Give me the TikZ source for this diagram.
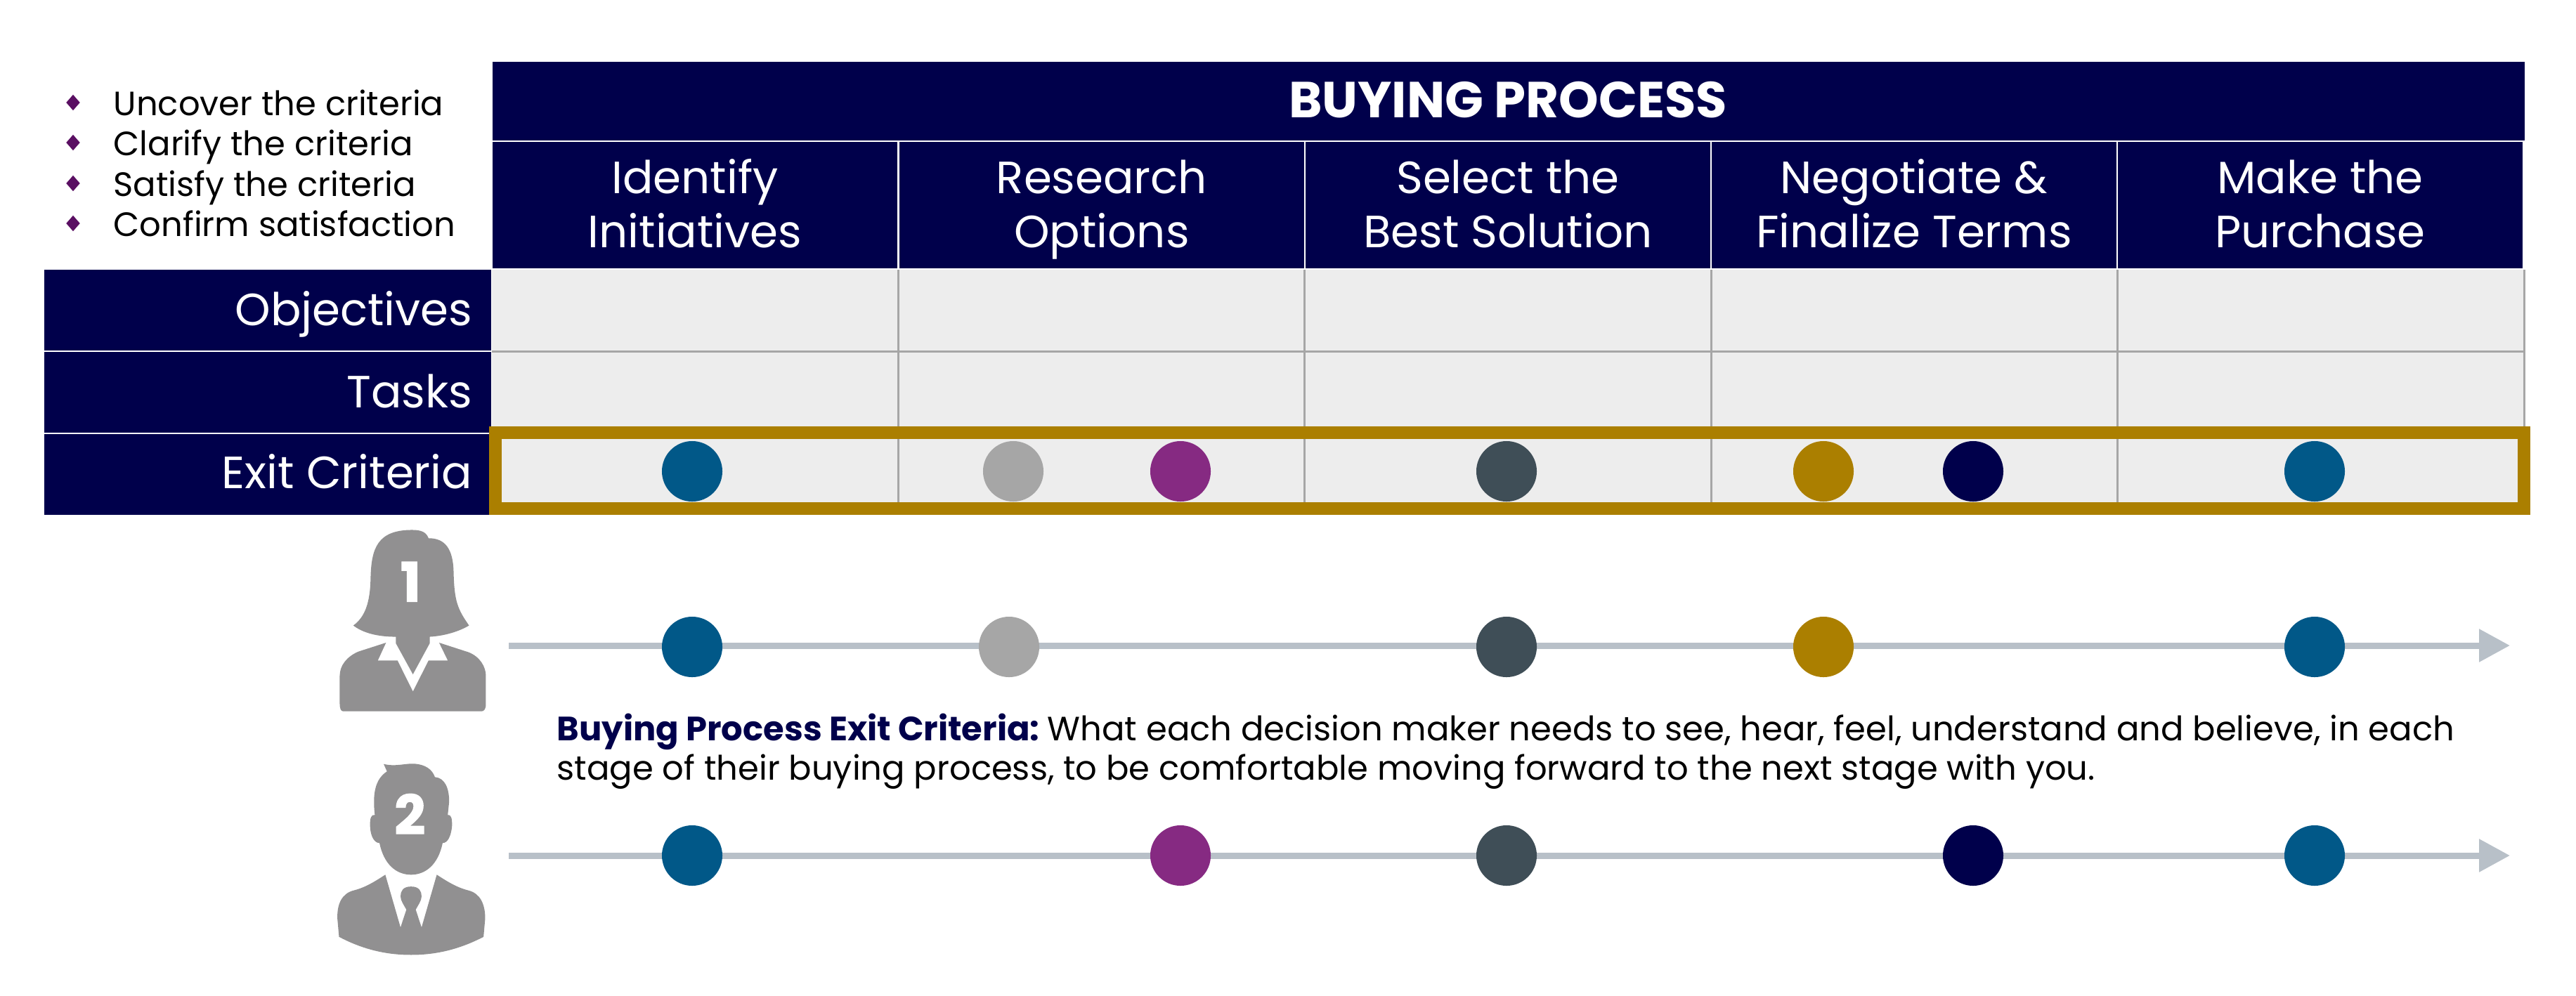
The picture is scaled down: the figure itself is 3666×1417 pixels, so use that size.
\documentclass[tikz,border=0pt]{standalone}
\usepackage{fontspec}
\setmainfont{Poppins}
\newfontfamily\numfont{Poppins}[BoldFeatures={FakeBold=1.5}]
\usetikzlibrary{arrows.meta,shapes.geometric}
\definecolor{navy}{HTML}{00004B}
\definecolor{cellgray}{HTML}{EDEDED}
\definecolor{gridgray}{HTML}{A6A6A6}
\definecolor{goldc}{HTML}{AB7F00}
\definecolor{bluec}{HTML}{015888}
\definecolor{lgray}{HTML}{A6A6A6}
\definecolor{purp}{HTML}{862A82}
\definecolor{slate}{HTML}{3F4E57}
\definecolor{linec}{HTML}{B8C0C8}
\definecolor{bul}{HTML}{5A0F62}
\definecolor{person}{HTML}{919091}
\newcommand{\fsHead}{\fontsize{18.3}{21.9}\selectfont}
\newcommand{\fsBody}{\fontsize{13.66}{15.9}\selectfont}
\tikzset{
  navybox/.style={fill=navy,text=white,inner sep=0pt,outer sep=0pt,rectangle},
  headcell/.style={navybox,minimum width=5.76cm,minimum height=1.80cm},
  headtext/.style={text=white,inner sep=0pt,font=\fsHead,align=center},
  rowcell/.style={navybox,minimum width=6.36cm,minimum height=1.15cm},
  rowlabel/.style={text=white,font=\fsHead,anchor=base east,inner sep=0pt},
  bodycell/.style={fill=cellgray,inner sep=0pt,outer sep=0pt,rectangle,minimum width=5.784cm,minimum height=1.165cm},
  gridline/.style={draw=gridgray,line width=.03cm},
  dot/.style={circle,minimum size=.86cm,inner sep=0pt,outer sep=0pt,fill=#1},
  timeline/.style={draw=linec,line width=.09cm,-{Triangle[length=.44cm,width=.45cm]}},
  bulletd/.style={diamond,fill=bul,inner sep=0pt,minimum width=.2cm,minimum height=.23cm},
  bullettext/.style={font=\fsBody,anchor=base west,inner sep=0pt},
  frame/.style={draw=goldc,line width=.18cm},
  persona/.style={fill=person},
  numlabel/.style={text=white,font=\fontsize{22}{22}\selectfont\numfont\bfseries,inner sep=0pt}
}
\begin{document}
\begin{tikzpicture}[x=0.01cm,y=-0.01cm]
\useasboundingbox (0,0) rectangle (3666,1417);
% title bar
\node[navybox,minimum width=28.9cm,minimum height=1.12cm] (title) at (2147,144) {};
\node[text=white,inner sep=0pt,anchor=base,font=\fontsize{20.5}{24}\selectfont\bfseries] (titletext) at (2146,167) {BUYING PROCESS};
% stage headers
\node[headcell] (h1) at (989,292) {};
\node[headcell] (h2) at (1568,292) {};
\node[headcell] (h3) at (2146,292) {};
\node[headcell] (h4) at (2724,292) {};
\node[headcell] (h5) at (3302,292) {};
\node[headtext] (ht1) at (989,299) {\strut Identify\\\strut Initiatives};
\node[headtext] (ht2) at (1568,299) {\strut Research\\\strut Options};
\node[headtext] (ht3) at (2146,299) {\strut Select the\\\strut Best Solution};
\node[headtext] (ht4) at (2724,299) {\strut Negotiate \&\\\strut Finalize Terms};
\node[headtext] (ht5) at (3302,299) {\strut Make the\\\strut Purchase};
% row headers
\node[rowcell] (r1) at (381,441.5) {};
\node[rowcell] (r2) at (381,558.5) {};
\node[rowcell] (r3) at (381,675.5) {};
\node[rowlabel] (l1) at (673,463) {Objectives};
\node[rowlabel] (l2) at (673,580) {Tasks};
\node[rowlabel] (l3) at (673,695) {Exit Criteria};
% body cells
\foreach \c/\x in {1/989.2,2/1567.6,3/2146,4/2724.4,5/3302.8}{
  \node[bodycell] (a\c) at (\x,442) {};
  \node[bodycell] (b\c) at (\x,558.5) {};
  \node[bodycell] (e\c) at (\x,675) {};
}
\foreach \c in {1,2,3,4,5}{
  \draw[gridline] (a\c.north east) -- (e\c.south east);
  \draw[gridline] (a\c.south west) -- (a\c.south east);
}
% gold frame
\coordinate (fa) at (705,616);
\coordinate (fb) at (3592,724);
\draw[frame] (fa) rectangle (fb);
% table dots
\node[dot=bluec] (t1) at (985,671) {};
\node[dot=lgray] (t2) at (1442,671) {};
\node[dot=purp] (t3) at (1680,671) {};
\node[dot=slate] (t4) at (2144,671) {};
\node[dot=goldc] (t5) at (2595,671) {};
\node[dot=navy] (t6) at (2808,671) {};
\node[dot=bluec] (t7) at (3294,671) {};
% bullets
\foreach \n/\y/\t in {1/164/Uncover the criteria,2/221/Clarify the criteria,3/279/Satisfy the criteria,4/336/Confirm satisfaction}{
  \node[bulletd] (bd\n) at (104,\y-18) {};
  \node[bullettext] (bt\n) at (161,\y) {\t};
}
% timelines
\coordinate (s1) at (724,919);
\coordinate (z1) at (3572,919);
\coordinate (s2) at (724,1218);
\coordinate (z2) at (3572,1218);
\draw[timeline] (s1) -- (z1);
\draw[timeline] (s2) -- (z2);
\node[dot=bluec] (p1) at (985,921) {};
\node[dot=lgray] (p2) at (1436,921) {};
\node[dot=slate] (p3) at (2144,921) {};
\node[dot=goldc] (p4) at (2595,921) {};
\node[dot=bluec] (p5) at (3294,921) {};
\node[dot=bluec] (q1) at (985,1218) {};
\node[dot=purp] (q2) at (1680,1218) {};
\node[dot=slate] (q3) at (2144,1218) {};
\node[dot=navy] (q4) at (2808,1218) {};
\node[dot=bluec] (q5) at (3294,1218) {};
% paragraph
\node[anchor=base west,inner sep=0pt,font=\fsBody] (d1) at (792,1054) {\textcolor{navy}{\bfseries Buying Process Exit Criteria:}\hspace{-.12em} What each decision maker needs to see, hear, feel, understand and believe, in each};
\node[anchor=base west,inner sep=0pt,font=\fsBody] (d2) at (792,1110) {stage of their buying process, to be comfortable moving forward to the next stage with you.};
% persons
\begin{scope}[shift={(4.2cm,-7.3cm)},x=0.003333cm,y=-0.004209cm]
  \fill[persona] (248,380) .. controls (300,350) and (320,300) .. (322,220)
    .. controls (325,120) and (350,57) .. (500,57)
    .. controls (540,57) and (560,65) .. (570,85)
    .. controls (640,85) and (675,120) .. (677,200)
    .. controls (680,300) and (695,325) .. (743,380)
    .. controls (700,400) and (640,415) .. (575,418)
    -- (575,440) -- (503,545) -- (430,440) -- (430,418)
    .. controls (350,418) and (290,405) .. (248,380) -- cycle;
  \fill[persona] (388,438) -- (353,498) -- (437,498) -- (503,603) -- (570,498) -- (652,498) -- (615,438)
    -- (740,470) .. controls (790,485) and (815,520) .. (815,550)
    -- (815,645) .. controls (815,665) and (805,670) .. (795,670)
    -- (205,670) .. controls (195,670) and (190,660) .. (190,645)
    -- (190,550) .. controls (190,515) and (220,485) .. (270,468) -- cycle;
  \node[numlabel] (n1) at (493,232) {1};
  \fill[persona] (378,848) .. controls (430,858) and (470,845) .. (510,847)
    .. controls (555,850) and (585,865) .. (597,892)
    .. controls (640,895) and (658,930) .. (658,975)
    -- (652,1020) .. controls (665,1018) and (672,1030) .. (670,1060)
    .. controls (665,1095) and (650,1115) .. (630,1115)
    .. controls (612,1185) and (560,1222) .. (495,1222)
    .. controls (430,1222) and (378,1185) .. (360,1115)
    .. controls (340,1115) and (322,1095) .. (320,1060)
    .. controls (318,1030) and (325,1018) .. (340,1020)
    .. controls (330,950) and (340,900) .. (392,873) -- cycle;
  \fill[persona] (385,1222) -- (450,1400) -- (475,1340) -- (515,1340) -- (540,1400) -- (605,1222)
    .. controls (650,1245) and (690,1265) .. (740,1275)
    .. controls (790,1285) and (812,1320) .. (812,1370)
    -- (805,1432) .. controls (700,1475) and (600,1493) .. (495,1493)
    .. controls (390,1493) and (290,1475) .. (187,1432)
    -- (180,1370) .. controls (178,1320) and (200,1285) .. (250,1275)
    .. controls (300,1265) and (340,1245) .. (385,1222) -- cycle;
  \fill[persona] (495,1262) .. controls (530,1262) and (540,1278) .. (540,1295)
    .. controls (540,1310) and (525,1325) .. (515,1340) -- (475,1340)
    .. controls (465,1325) and (450,1310) .. (450,1295)
    .. controls (450,1278) and (460,1262) .. (495,1262) -- cycle;
  \node[numlabel] (n2) at (490,1017) {2};
\end{scope}
\end{tikzpicture}
\end{document}
